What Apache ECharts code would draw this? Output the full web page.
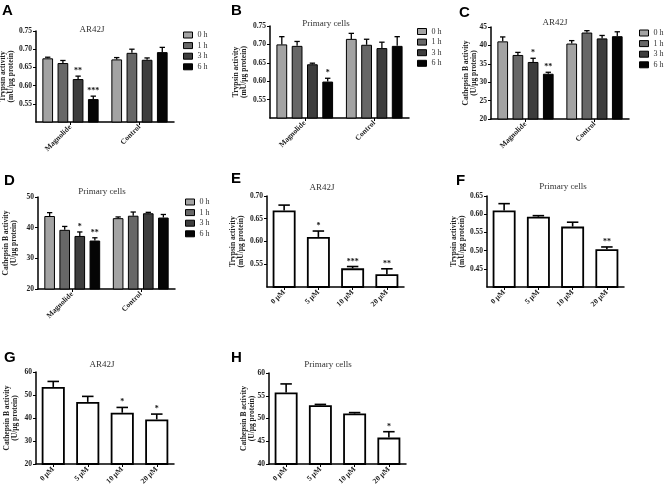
<!DOCTYPE html>
<html><head><meta charset="utf-8">
<script src="https://cdn.jsdelivr.net/npm/echarts@6/dist/echarts.min.js"></script>
<style>html,body{margin:0;padding:0;background:#fff}#c{width:665px;height:489px}</style>
</head><body><div id="c"></div>
<script>
// ---------------- data ----------------
const timeLabels = ['0 h', '1 h', '3 h', '6 h'];
const groupCats = ['Magnolide', 'Control'];
const doseCats = ['0 μM', '5 μM', '10 μM', '20 μM'];
const panelLetters = ['A', 'B', 'C', 'D', 'E', 'F', 'G', 'H'];
const panelTitles = ['AR42J', 'Primary cells', 'AR42J', 'Primary cells', 'AR42J', 'Primary cells', 'AR42J', 'Primary cells'];
const trypsinName = 'Trypsin activity\n(mU/μg protein)';
const cathepsinName = 'Cathepsin B activity\n(U/μg protein)';

// A: trypsin, AR42J; rows = 0,1,3,6 h ; cols = [Magnolide, Control]
const trypsinAR42J_mean = [[0.675, 0.672], [0.662, 0.690], [0.618, 0.671], [0.563, 0.692]];
const trypsinAR42J_err  = [[0.003, 0.005], [0.007, 0.010], [0.008, 0.005], [0.008, 0.013]];
const trypsinAR42J_sig  = [['', ''], ['', ''], ['**', ''], ['***', '']];
// B: trypsin, primary cells
const trypsinPrimary_mean = [[0.700, 0.715], [0.696, 0.699], [0.646, 0.690], [0.599, 0.696]];
const trypsinPrimary_err  = [[0.021, 0.015], [0.012, 0.015], [0.003, 0.016], [0.009, 0.025]];
const trypsinPrimary_sig  = [['', ''], ['', ''], ['', ''], ['*', '']];
// C: cathepsin B, AR42J
const cathepsinAR42J_mean = [[41.1, 40.5], [37.4, 43.5], [35.5, 41.9], [32.3, 42.5]];
const cathepsinAR42J_err  = [[1.2, 0.8], [0.7, 0.5], [1.0, 0.8], [0.4, 1.2]];
const cathepsinAR42J_sig  = [['', ''], ['', ''], ['*', ''], ['**', '']];
// D: cathepsin B, primary cells
const cathepsinPrimary_mean = [[43.8, 43.1], [39.3, 43.9], [37.3, 44.7], [35.8, 43.3]];
const cathepsinPrimary_err  = [[1.1, 0.4], [1.1, 1.2], [1.3, 0.3], [0.9, 1.0]];
const cathepsinPrimary_sig  = [['', ''], ['', ''], ['*', ''], ['**', '']];
// E: dose, trypsin, AR42J
const doseTrypsinAR42J_mean = [0.668, 0.610, 0.541, 0.528];
const doseTrypsinAR42J_err  = [0.012, 0.013, 0.004, 0.012];
const doseTrypsinAR42J_sig  = ['', '*', '***', '**'];
// F: dose, trypsin, primary
const doseTrypsinPrimary_mean = [0.610, 0.593, 0.566, 0.504];
const doseTrypsinPrimary_err  = [0.019, 0.003, 0.012, 0.006];
const doseTrypsinPrimary_sig  = ['', '', '', '**'];
// G: dose, cathepsin B, AR42J
const doseCathepsinAR42J_mean = [53.5, 47.0, 42.3, 39.4];
const doseCathepsinAR42J_err  = [2.4, 2.4, 2.3, 2.3];
const doseCathepsinAR42J_sig  = ['', '', '*', '*'];
// H: dose, cathepsin B, primary
const doseCathepsinPrimary_mean = [55.7, 52.9, 51.1, 45.8];
const doseCathepsinPrimary_err  = [1.9, 0.2, 0.2, 1.3];
const doseCathepsinPrimary_sig  = ['', '', '', '*'];

// y tick labels per panel
const ticksA = [0.50, 0.55, 0.60, 0.65, 0.70, 0.75];
const ticksB = [0.50, 0.55, 0.60, 0.65, 0.70, 0.75];
const ticksC = [20, 25, 30, 35, 40, 45];
const ticksD = [20, 30, 40, 50];
const ticksE = [0.50, 0.55, 0.60, 0.65, 0.70];
const ticksF = [0.40, 0.45, 0.50, 0.55, 0.60, 0.65];
const ticksG = [20, 30, 40, 50, 60];
const ticksH = [40, 45, 50, 55, 60];

// ---------------- panels ----------------
const panels = [
  {grouped: true,  mean: trypsinAR42J_mean, err: trypsinAR42J_err, sig: trypsinAR42J_sig, ticks: ticksA, yName: trypsinName, dec: 2, hideMin: true},
  {grouped: true,  mean: trypsinPrimary_mean, err: trypsinPrimary_err, sig: trypsinPrimary_sig, ticks: ticksB, yName: trypsinName, dec: 2, hideMin: true},
  {grouped: true,  mean: cathepsinAR42J_mean, err: cathepsinAR42J_err, sig: cathepsinAR42J_sig, ticks: ticksC, yName: cathepsinName, dec: 0, hideMin: false},
  {grouped: true,  mean: cathepsinPrimary_mean, err: cathepsinPrimary_err, sig: cathepsinPrimary_sig, ticks: ticksD, yName: cathepsinName, dec: 0, hideMin: false},
  {grouped: false, mean: doseTrypsinAR42J_mean, err: doseTrypsinAR42J_err, sig: doseTrypsinAR42J_sig, ticks: ticksE, yName: trypsinName, dec: 2, hideMin: true},
  {grouped: false, mean: doseTrypsinPrimary_mean, err: doseTrypsinPrimary_err, sig: doseTrypsinPrimary_sig, ticks: ticksF, yName: trypsinName, dec: 2, hideMin: true},
  {grouped: false, mean: doseCathepsinAR42J_mean, err: doseCathepsinAR42J_err, sig: doseCathepsinAR42J_sig, ticks: ticksG, yName: cathepsinName, dec: 0, hideMin: false},
  {grouped: false, mean: doseCathepsinPrimary_mean, err: doseCathepsinPrimary_err, sig: doseCathepsinPrimary_sig, ticks: ticksH, yName: cathepsinName, dec: 0, hideMin: false}
];

// ---------------- layout / style ----------------
const layout = [
  {left: 36,  top: 31,  width: 138, height: 91, nameGap: 21, letter: [2, 3],     title: [92, 29.5],  legend: [183, 31]},
  {left: 270, top: 26,  width: 139, height: 92, nameGap: 22, letter: [231, 3],   title: [326, 24],   legend: [417, 27.5]},
  {left: 491, top: 27,  width: 138, height: 92, nameGap: 13, letter: [459, 5],   title: [555, 23],   legend: [639, 29]},
  {left: 38,  top: 197, width: 137, height: 92, nameGap: 20, letter: [4, 173],   title: [102, 191.5], legend: [185, 198]},
  {left: 267, top: 196, width: 137, height: 91, nameGap: 22, letter: [231, 171], title: [322, 187.5]},
  {left: 487, top: 196, width: 137, height: 91, nameGap: 21, letter: [456, 173], title: [563, 187]},
  {left: 36,  top: 372, width: 138, height: 92, nameGap: 17, letter: [4, 350],   title: [102, 365]},
  {left: 269, top: 373, width: 137, height: 91, nameGap: 13, letter: [231, 350], title: [328, 364.5]}
];
const SERIF = '"Liberation Serif", "DejaVu Serif", serif';
const SANS = '"Liberation Sans", Arial, sans-serif';
const barColors = ['#a3a3a3', '#676767', '#3d3d3d', '#050505'];
const GROUP_BW = 0.155, GROUP_GAP = 0.42, SINGLE_BW = 0.67;

function errRenderer(n, bwFrac, gapFrac, sigs, lw) {
  return function (params, api) {
    const c = api.value(0), v = api.value(1), e = api.value(2), s = api.value(3);
    const band = api.size([1, 0])[0];
    const bw = band * bwFrac, gw = bw * gapFrac;
    const total = n * bw + (n - 1) * gw;
    const p0 = api.coord([c, v]);
    const p1 = api.coord([c, v + e]);
    const cx = p0[0] - total / 2 + s * (bw + gw) + bw / 2;
    const half = bw * 0.25;
    const st = {stroke: '#000', lineWidth: lw, fill: null};
    const children = [
      {type: 'line', shape: {x1: cx, y1: p0[1], x2: cx, y2: p1[1]}, style: st},
      {type: 'line', shape: {x1: cx - half, y1: p1[1], x2: cx + half, y2: p1[1]}, style: st}
    ];
    const t = sigs[params.dataIndex];
    if (t) {
      children.push({type: 'text', x: cx, y: p1[1] - 1,
        style: {text: t, fill: '#111', font: 'bold 8px ' + SERIF, align: 'center', verticalAlign: 'bottom',
                textAlign: 'center', textVerticalAlign: 'bottom'}});
    }
    return {type: 'group', children: children};
  };
}

const grids = [], xAxes = [], yAxes = [], series = [], legends = [], graphics = [];
panels.forEach(function (p, i) {
  const L = layout[i];
  grids.push({left: L.left, top: L.top, width: L.width, height: L.height, containLabel: false, outerBoundsMode: 'none'});
  const cats = p.grouped ? groupCats : doseCats;
  xAxes.push({
    type: 'category', gridIndex: i, data: cats,
    axisLine: {show: true, lineStyle: {color: '#000', width: 1.5}},
    axisTick: {show: true, alignWithLabel: true, length: 3, lineStyle: {color: '#000', width: 1}},
    axisLabel: {interval: 0, rotate: 45, margin: 4, fontFamily: SERIF, fontWeight: 'bold', fontSize: 7.5, color: '#222'},
    splitLine: {show: false}
  });
  const tk = p.ticks;
  yAxes.push({
    type: 'value', gridIndex: i, min: tk[0], max: tk[tk.length - 1],
    interval: Math.round((tk[1] - tk[0]) * 1000) / 1000,
    splitLine: {show: false},
    axisLine: {show: true, lineStyle: {color: '#000', width: 1.5}},
    axisTick: {show: true, length: 3, lineStyle: {color: '#000', width: 1}},
    axisLabel: {showMinLabel: !p.hideMin, margin: 4, fontFamily: SERIF, fontWeight: 'bold', fontSize: 7.5, color: '#222',
      formatter: (function (d) { return function (v) { return v.toFixed(d); }; })(p.dec)},
    name: p.yName, nameLocation: 'middle', nameGap: L.nameGap, nameMoveOverlap: false,
    nameTextStyle: {fontFamily: SERIF, fontWeight: 'bold', fontSize: 7.5, lineHeight: 8, color: '#222'}
  });
  const errData = [], sigData = [];
  if (p.grouped) {
    p.mean.forEach(function (row, t) {
      series.push({type: 'bar', name: timeLabels[t], xAxisIndex: i, yAxisIndex: i, data: row,
        barWidth: (GROUP_BW * 100) + '%', barGap: (GROUP_GAP * 100) + '%', clip: true, silent: true,
        itemStyle: {color: barColors[t], borderColor: '#000', borderWidth: 1}});
      row.forEach(function (v, c) { errData.push([c, v, p.err[t][c], t]); sigData.push(p.sig[t][c]); });
    });
    series.push({type: 'custom', name: 'err' + i, xAxisIndex: i, yAxisIndex: i, z: 5, silent: true,
      encode: {x: 0, y: 1}, data: errData, renderItem: errRenderer(4, GROUP_BW, GROUP_GAP, sigData, 1.3)});
    legends.push({
      data: timeLabels, orient: 'vertical', left: L.legend[0], top: L.legend[1], padding: 0, selectedMode: false,
      icon: 'rect', itemWidth: 9, itemHeight: 6, itemGap: 2.6,
      itemStyle: {borderColor: '#000', borderWidth: 1},
      textStyle: {fontFamily: SERIF, fontSize: 8, lineHeight: 8, color: '#333'}
    });
  } else {
    series.push({type: 'bar', name: 'dose' + i, xAxisIndex: i, yAxisIndex: i, data: p.mean,
      barWidth: (SINGLE_BW * 100) + '%', clip: true, silent: true,
      itemStyle: {color: '#fff', borderColor: '#000', borderWidth: 1.8}});
    p.mean.forEach(function (v, c) { errData.push([c, v, p.err[c], 0]); sigData.push(p.sig[c]); });
    series.push({type: 'custom', name: 'err' + i, xAxisIndex: i, yAxisIndex: i, z: 5, silent: true,
      encode: {x: 0, y: 1}, data: errData, renderItem: errRenderer(1, SINGLE_BW, 0, sigData, 1.6)});
  }
  graphics.push({type: 'text', x: L.letter[0], y: L.letter[1],
    style: {text: panelLetters[i], font: 'bold 15px ' + SANS, fill: '#000', align: 'left', verticalAlign: 'top', textAlign: 'left', textVerticalAlign: 'top'}});
  graphics.push({type: 'text', x: L.title[0], y: L.title[1],
    style: {text: panelTitles[i], font: '9px ' + SERIF, fill: '#333', align: 'center', verticalAlign: 'middle', textAlign: 'center', textVerticalAlign: 'middle'}});
});

const chart = echarts.init(document.getElementById('c'), null, {renderer: 'canvas'});
chart.setOption({
  animation: false,
  backgroundColor: '#fff',
  grid: grids, xAxis: xAxes, yAxis: yAxes, series: series, legend: legends,
  graphic: {elements: graphics}
});
</script>
</body></html>
